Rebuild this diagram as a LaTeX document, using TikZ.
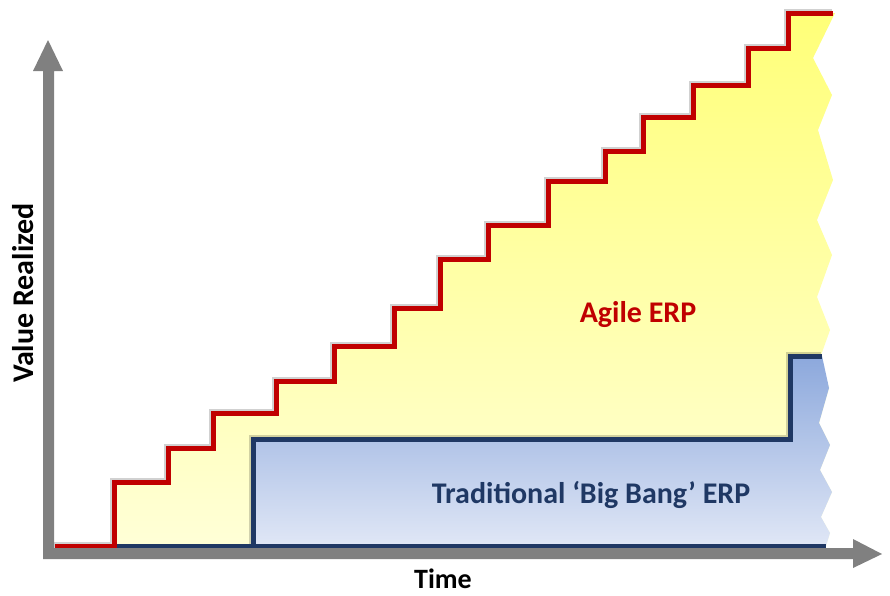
\documentclass[tikz,border=0pt]{standalone}
\usepackage{fontspec}
\setmainfont{Carlito}
\definecolor{agred}{RGB}{192,0,0}
\definecolor{navy}{RGB}{31,56,100}
\definecolor{axgray}{RGB}{128,128,128}
\definecolor{ytop}{RGB}{255,255,120}
\definecolor{ybot}{RGB}{255,255,215}
\definecolor{btop}{RGB}{140,168,220}
\definecolor{bbot}{RGB}{224,231,246}
\begin{document}
\begin{tikzpicture}[x=1pt,y=-1pt,
  lbl/.style={font=\bfseries\fontsize{30}{36}\selectfont, inner sep=0pt},
  redline/.style={draw=agred, line width=5pt, line join=miter},
  navyline/.style={draw=navy, line width=5pt, line join=miter},
  shadowline/.style={draw=black, opacity=0.18, line width=6pt}]
\useasboundingbox (0,0) rectangle (890,595);
% yellow area
\shade[top color=ytop, bottom color=ybot]
  (114,546) -- (114,482) -- (168,482) -- (168,448) -- (213,448) -- (213,413)
  -- (276,413) -- (276,381) -- (334,381) -- (334,346) -- (394,346) -- (394,308)
  -- (440,308) -- (440,259) -- (488,259) -- (488,225) -- (548,225) -- (548,181)
  -- (605,181) -- (605,151) -- (643,151) -- (643,117) -- (693,117) -- (693,85)
  -- (748,85) -- (748,48) -- (788,48) -- (788,13) -- (835,13)
  -- (813,58) -- (832,95) -- (818,130) -- (833,180) -- (817,220) -- (832,255)
  -- (817,297) -- (830,330) -- (820,358) -- (829,388) -- (819,423) -- (830,445)
  -- (820,470) -- (832,492) -- (821,517) -- (830,533) -- (826,546) -- cycle;
% blue area
\shade[top color=btop, bottom color=bbot]
  (253,546) -- (253,439) -- (790,439) -- (790,356) -- (822,356)
  -- (829,388) -- (819,423) -- (830,445) -- (820,470) -- (832,492)
  -- (821,517) -- (830,533) -- (826,546) -- cycle;
% shadows
\draw[shadowline, shift={(-1.5,-1.5)}]
  (55,546) -- (114,546) -- (114,482) -- (168,482) -- (168,448) -- (213,448) -- (213,413)
  -- (276,413) -- (276,381) -- (334,381) -- (334,346) -- (394,346) -- (394,308)
  -- (440,308) -- (440,259) -- (488,259) -- (488,225) -- (548,225) -- (548,181)
  -- (605,181) -- (605,151) -- (643,151) -- (643,117) -- (693,117) -- (693,85)
  -- (748,85) -- (748,48) -- (788,48) -- (788,13) -- (833,13);
\draw[shadowline, shift={(-1.5,-1.5)}]
  (253,546) -- (253,439) -- (790,439) -- (790,356) -- (822,356);
% navy outline
\draw[navyline] (114,546) -- (826,546);
\draw[navyline] (253,546) -- (253,439) -- (790,439) -- (790,356) -- (822,356);
% red steps
\draw[redline]
  (55,546) -- (114,546) -- (114,482) -- (168,482) -- (168,448) -- (213,448) -- (213,413)
  -- (276,413) -- (276,381) -- (334,381) -- (334,346) -- (394,346) -- (394,308)
  -- (440,308) -- (440,259) -- (488,259) -- (488,225) -- (548,225) -- (548,181)
  -- (605,181) -- (605,151) -- (643,151) -- (643,117) -- (693,117) -- (693,85)
  -- (748,85) -- (748,48) -- (788,48) -- (788,13) -- (833,13);
% axes
\fill[axgray] (33,71) -- (48,40) -- (63,71) -- (54,71) -- (54,548) -- (853,548)
  -- (853,539) -- (882,554) -- (853,568) -- (853,559) -- (43,559) -- (43,71) -- cycle;
% labels
\node[lbl, text=agred, anchor=base] (agile) at (638,322) {Agile ERP};
\node[lbl, text=navy, anchor=base] (trad) at (591,503) {Traditional ‘Big Bang’ ERP};
\node[lbl, anchor=base, font=\bfseries\fontsize{28}{34}\selectfont] (time) at (443,588) {Time};
\node[lbl, anchor=base, rotate=90] (value) at (33,293) {Value Realized};
\end{tikzpicture}
\end{document}
